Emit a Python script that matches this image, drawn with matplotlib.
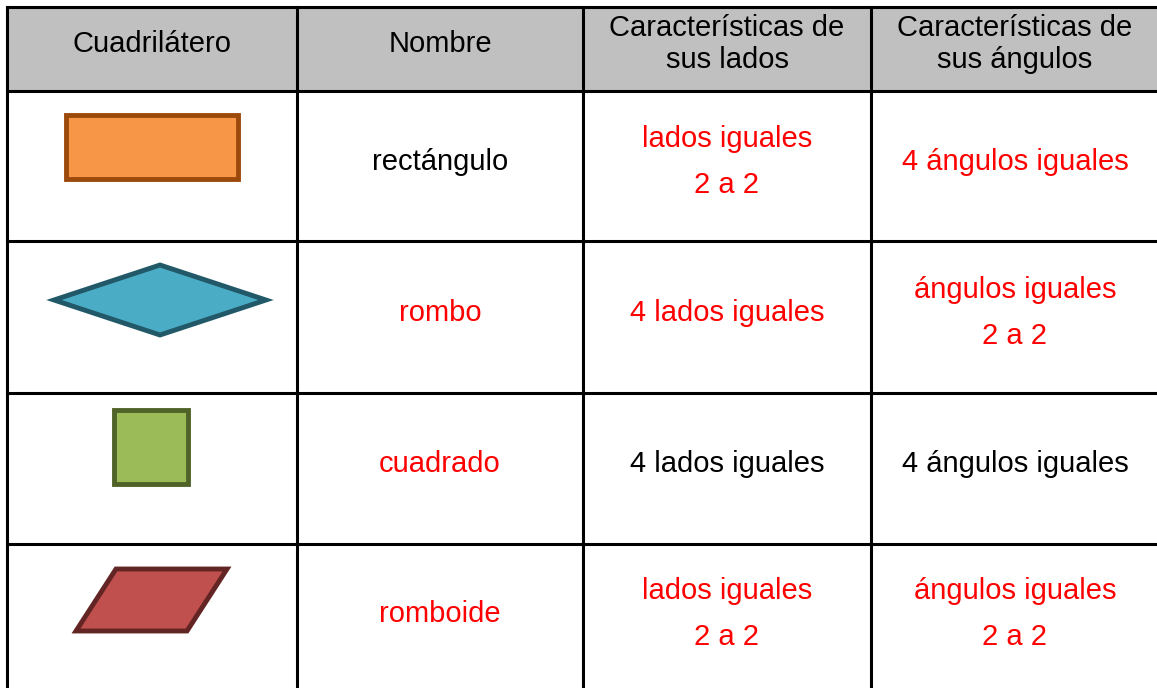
import matplotlib.pyplot as plt
from matplotlib.patches import Polygon, Rectangle

plt.rcParams['font.family'] = ['Liberation Sans', 'DejaVu Sans']

headers = ['Cuadrilátero', 'Nombre', 'Características de\nsus lados', 'Características de\nsus ángulos']
names = ['rectángulo', 'rombo', 'cuadrado', 'romboide']
lados = ['lados iguales\n2 a 2', '4 lados iguales', '4 lados iguales', 'lados iguales\n2 a 2']
angulos = ['4 ángulos iguales', 'ángulos iguales\n2 a 2', '4 ángulos iguales', 'ángulos iguales\n2 a 2']
name_red = [False, True, True, True]
lados_red = [True, True, False, True]
angulos_red = [True, True, False, True]
fills = ['#F79646', '#4BACC6', '#9BBB59', '#C0504D']
edges = ['#9C4A0C', '#215968', '#4F6228', '#632523']

# column edges and row edges in pixels
col_x = [7, 297, 583, 871, 1170]
row_y = [7, 91, 241, 393, 544, 700]

# shape outlines, relative to the cell centre (pixels)
shapes = [
    [(-86, -32), (86, -32), (86, 32), (-86, 32)],
    [(-106, 0), (0, -35), (106, 0), (0, 35)],
    [(-37, -37), (37, -37), (37, 37), (-37, 37)],
    [(-36, -31), (75, -31), (35, 31), (-76, 31)],
]
shape_offset = [(0, -19), (8, -17), (-1, -22), (0, -18)]

fig = plt.figure(figsize=(11.57, 6.88), dpi=100)
ax = fig.add_axes([0, 0, 1, 1])
ax.set_xlim(0, 1157)
ax.set_ylim(688, 0)
ax.axis('off')

ax.add_patch(Rectangle((col_x[0], row_y[0]), col_x[-1] - col_x[0], row_y[1] - row_y[0],
                       facecolor='#C0C0C0', edgecolor='none'))
for x in col_x[:-1]:
    ax.plot([x, x], [row_y[0], row_y[-1]], color='black', lw=2.2, solid_capstyle='projecting')
for y in row_y[:-1]:
    ax.plot([col_x[0], col_x[-1]], [y, y], color='black', lw=2.2, solid_capstyle='projecting')

fs = 21
for j, h in enumerate(headers):
    cx = (col_x[j] + col_x[j + 1]) / 2
    if j == 3:
        cx = (col_x[3] + 1157) / 2 + 1
    ax.text(cx, 44, h, ha='center', va='center',
            fontsize=fs, color='black', linespacing=1.18)

for i in range(4):
    cy = (row_y[i + 1] + row_y[i + 2]) / 2
    if i == 3:
        cy = (row_y[4] + 688) / 2 + 2
    cx0 = (col_x[0] + col_x[1]) / 2
    dx, dy = shape_offset[i]
    pts = [(cx0 + dx + px, cy + dy + py) for px, py in shapes[i]]
    ax.add_patch(Polygon(pts, closed=True, facecolor=fills[i], edgecolor=edges[i], lw=3.5,
                         joinstyle='miter'))
    cols = [names[i], lados[i], angulos[i]]
    reds = [name_red[i], lados_red[i], angulos_red[i]]
    for k in range(3):
        j = k + 1
        cx = (col_x[j] + col_x[j + 1]) / 2
        if j == 3:
            cx = (col_x[3] + 1157) / 2 + 1
        ax.text(cx, cy - 4, cols[k], ha='center', va='center', fontsize=fs,
                color='#FF0000' if reds[k] else 'black', linespacing=1.85)

fig.savefig('out.png', dpi=100)
